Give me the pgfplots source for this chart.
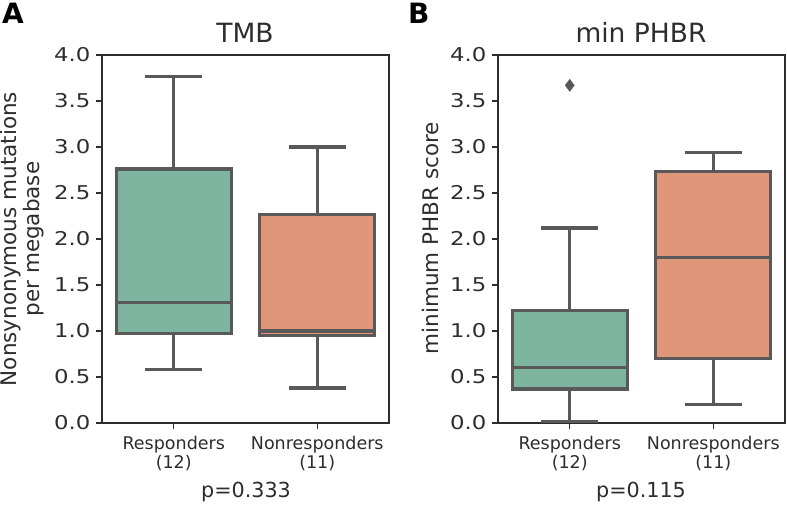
\documentclass[border=0pt]{standalone}
\usepackage{fontspec}
\setmainfont{DejaVu Sans}
\newfontfamily\tickfont{DejaVu Sans}[FakeStretch=1.2]
\usepackage{pgfplots}
\pgfplotsset{compat=1.18}
\usepgfplotslibrary{statistics}
\definecolor{boxgreen}{RGB}{125,181,160}
\definecolor{boxorange}{RGB}{224,150,120}
\definecolor{boxline}{RGB}{89,89,89}
\definecolor{spine}{RGB}{45,45,45}
\pgfplotsset{
  panel/.style={
    width=287pt, height=368pt, scale only axis,
    anchor=south west,
    xmin=-0.5, xmax=1.5, ymin=0, ymax=4,
    xtick={0,1}, xticklabels={{Responders\\(12)},{Nonresponders\\(11)}},
    ytick={0,0.5,1,1.5,2,2.5,3,3.5,4},
    /pgf/number format/assume math mode=true,
    yticklabel style={/pgf/number format/fixed, /pgf/number format/fixed zerofill,
      /pgf/number format/precision=1, font=\tickfont\fontsize{19}{21}\selectfont, text=spine, xshift=-2pt},
    xticklabel style={align=center, font=\fontsize{17.5}{19}\selectfont, text=spine, yshift=-4pt},
    tick pos=left, tick align=outside, major tick length=6pt,
    major tick style={spine, line width=1.3pt},
    axis line style={spine, line width=1.3pt},
    boxplot/draw direction=y,
    clip=false,
  },
  bx/.style={draw=boxline, line width=3.2pt, fill=#1, solid},
}
\begin{document}
\begin{tikzpicture}
\path[use as bounding box] (0,0) rectangle (787pt,504pt);
% Panel A
\begin{axis}[panel, at={(102pt,81pt)}]
\addplot[bx=boxgreen, boxplot prepared={draw position=0, lower whisker=0.58, lower quartile=0.97, median=1.31, upper quartile=2.76, upper whisker=3.77, box extend=0.8, whisker extend=0.4}] coordinates {};
\addplot[bx=boxorange, boxplot prepared={draw position=1, lower whisker=0.38, lower quartile=0.95, median=1.00, upper quartile=2.27, upper whisker=3.00, box extend=0.8, whisker extend=0.4}] coordinates {};
\end{axis}
% Panel B
\begin{axis}[panel, at={(498pt,81pt)}]
\addplot[bx=boxgreen, mark=diamond*, mark size=6pt, mark options={fill=boxline, draw=boxline, line width=0.5pt}, boxplot prepared={draw position=0, lower whisker=0.02, lower quartile=0.37, median=0.60, upper quartile=1.22, upper whisker=2.12, box extend=0.8, whisker extend=0.4}] coordinates {(0,3.67)};
\addplot[bx=boxorange, boxplot prepared={draw position=1, lower whisker=0.20, lower quartile=0.70, median=1.80, upper quartile=2.73, upper whisker=2.94, box extend=0.8, whisker extend=0.4}] coordinates {};
\end{axis}
% titles, labels
\node[anchor=base, font=\fontsize{26.5}{28}\selectfont, text=spine] at (245pt,461pt) {TMB};
\node[anchor=base, font=\fontsize{26.5}{28}\selectfont, text=spine] at (641pt,461pt) {min PHBR};
\node[rotate=90, align=center, font=\fontsize{21.5}{23.5}\selectfont, text=spine] at (22pt,265pt) {Nonsynonymous mutations\\per megabase};
\node[rotate=90, font=\fontsize{21.5}{23.5}\selectfont, text=spine] at (430pt,266pt) {minimum PHBR score};
\node[anchor=base, font=\fontsize{20.7}{22}\selectfont, text=spine] at (246pt,7pt) {p=0.333};
\node[anchor=base, font=\fontsize{20.7}{22}\selectfont, text=spine] at (641pt,7pt) {p=0.115};
\node[anchor=base west, inner sep=0pt, font=\fontsize{28}{30}\selectfont\bfseries] at (2pt,480pt) {A};
\node[anchor=base west, inner sep=0pt, font=\fontsize{28}{30}\selectfont\bfseries] at (408pt,480pt) {B};
\end{tikzpicture}
\end{document}
